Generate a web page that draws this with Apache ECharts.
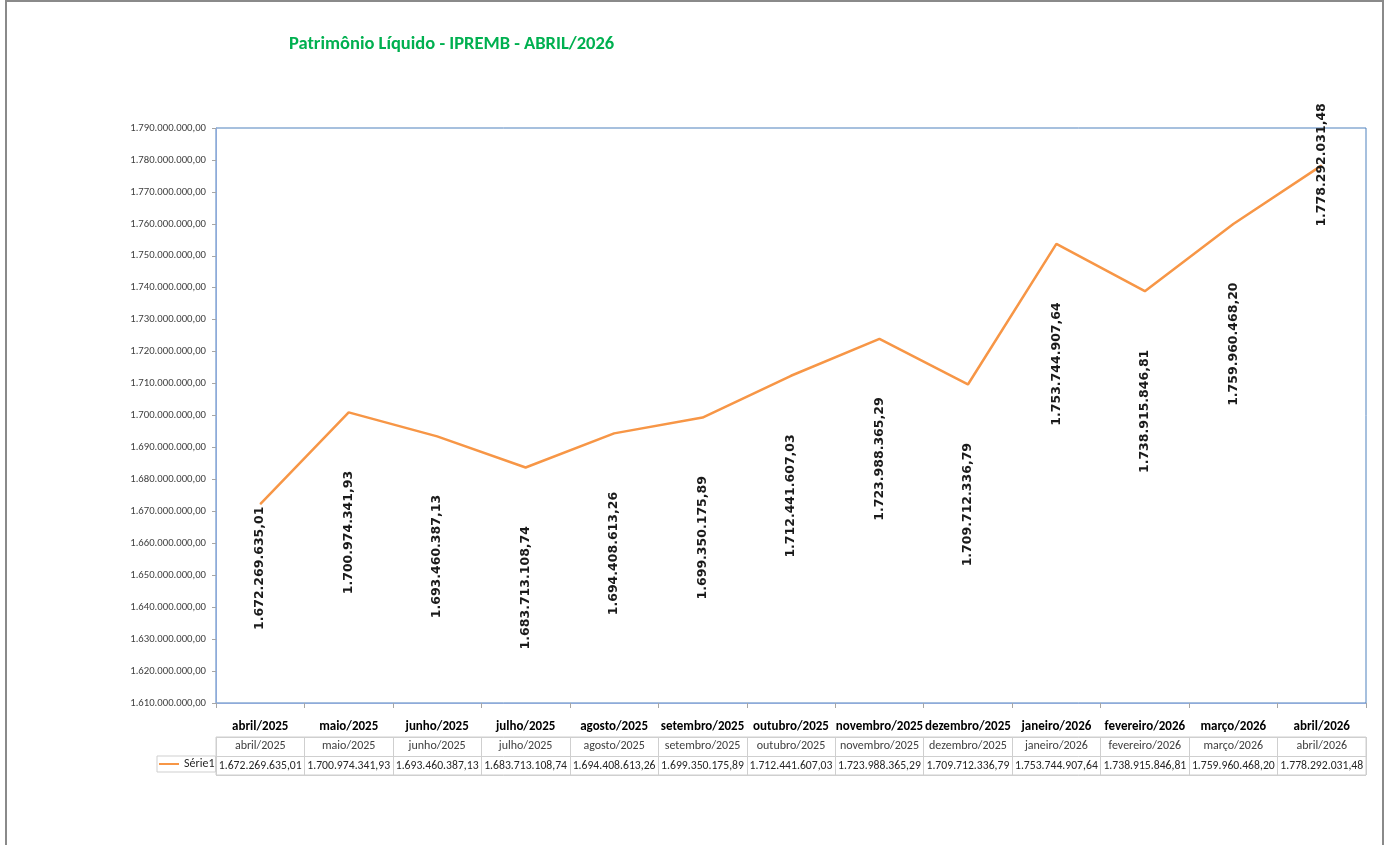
<!DOCTYPE html>
<html>
<head>
<meta charset="utf-8">
<script src="https://cdn.jsdelivr.net/npm/echarts@6/dist/echarts.min.js"></script>
<style>
  html, body { margin: 0; padding: 0; background: #fff; }
  #chart { width: 1389px; height: 845px; }
  #frame { position: absolute; left: 5px; top: 0; width: 1379px; height: 870px; box-sizing: border-box;
           border: 2px solid #8a8a8a; pointer-events: none; }
</style>
</head>
<body>
<div id="chart"></div>
<div id="frame"></div>
<script>
// meses do relatório
var meses = ['abril/2025', 'maio/2025', 'junho/2025', 'julho/2025', 'agosto/2025', 'setembro/2025',
  'outubro/2025', 'novembro/2025', 'dezembro/2025', 'janeiro/2026', 'fevereiro/2026', 'março/2026', 'abril/2026'];

// patrimônio líquido (R$)
var serie1 = [1672269635.01, 1700974341.93, 1693460387.13, 1683713108.74, 1694408613.26, 1699350175.89,
  1712441607.03, 1723988365.29, 1709712336.79, 1753744907.64, 1738915846.81, 1759960468.20, 1778292031.48];

var eixoY = { min: 1610000000, max: 1790000000, intervalo: 10000000 };

var fonteNarrow = 'Carlito, Calibri, Lato, sans-serif';

// formato pt-BR: 1.234.567,89
function fmt(v) {
  var p = Number(v).toFixed(2).split('.');
  return p[0].replace(/\B(?=(\d{3})+(?!\d))/g, '.') + ',' + p[1];
}

var chart = echarts.init(document.getElementById('chart'), null, { renderer: 'canvas' });

var ultimo = serie1.length - 1;
var dados = serie1.map(function (v, i) {
  if (i === 0) return { value: v, label: { distance: 2 } };
  if (i === ultimo) return { value: v, label: { position: 'top', align: 'center', distance: 0 } };
  return v;
});

var corTabela = '#cfcfcf';

var option = {
  backgroundColor: '#fff',
  animation: false,
  title: {
    text: 'Patrimônio Líquido - IPREMB - ABRIL/2026',
    left: 284,
    top: 30,
    textStyle: { color: '#00b050', fontSize: 18.5, fontWeight: 'bold', fontFamily: fonteNarrow }
  },
  legend: {
    data: [{ name: 'Série1', icon: 'rect' }],
    left: 157,
    top: 756,
    padding: [2, 1, 2, 2],
    itemWidth: 20,
    itemHeight: 2,
    borderColor: corTabela,
    borderWidth: 1,
    textStyle: { fontSize: 12, color: '#262626', fontFamily: fonteNarrow }
  },
  grid: [
    { left: 216, right: 23, top: 128, bottom: 142, show: true, borderColor: '#4f81bd', borderWidth: 1 },
    { left: 216, right: 23, top: 737, bottom: 70, show: true, borderColor: corTabela, borderWidth: 1 }
  ],
  xAxis: [
    {
      type: 'category',
      gridIndex: 0,
      data: meses,
      axisLine: { lineStyle: { color: '#8eaadb', width: 1 } },
      axisTick: { show: true, length: 5, lineStyle: { color: '#a6a6a6' } },
      axisLabel: { interval: 0, margin: 17, fontSize: 13, fontWeight: 'bold', color: '#000', fontFamily: fonteNarrow },
      splitLine: { show: false }
    },
    {
      type: 'category',
      gridIndex: 1,
      position: 'top',
      data: meses,
      axisLine: { show: false },
      axisTick: { show: false },
      axisLabel: { interval: 0, inside: true, margin: 3, fontSize: 12, color: '#404040', fontFamily: fonteNarrow },
      splitLine: { show: true, interval: 0, lineStyle: { color: corTabela, width: 1 } }
    },
    {
      type: 'category',
      gridIndex: 1,
      position: 'bottom',
      data: serie1.map(fmt),
      axisLine: { show: false },
      axisTick: { show: false },
      axisLabel: { interval: 0, inside: true, margin: 3, fontSize: 11.7, color: '#262626', fontFamily: fonteNarrow },
      splitLine: { show: false }
    }
  ],
  yAxis: [
    {
      type: 'value',
      gridIndex: 0,
      min: eixoY.min,
      max: eixoY.max,
      interval: eixoY.intervalo,
      axisLine: { show: true, lineStyle: { color: '#8eaadb' } },
      axisTick: { show: true, length: 4, lineStyle: { color: '#a6a6a6' } },
      axisLabel: { formatter: fmt, fontSize: 10.7, color: '#404040', margin: 10, fontFamily: fonteNarrow },
      splitLine: { show: false }
    },
    {
      type: 'value',
      gridIndex: 1,
      min: 0,
      max: 2,
      interval: 1,
      axisLine: { show: false },
      axisTick: { show: false },
      axisLabel: { show: false },
      splitLine: { show: true, lineStyle: { color: corTabela, width: 1 } }
    }
  ],
  series: [
    {
      name: 'Série1',
      type: 'line',
      xAxisIndex: 0,
      yAxisIndex: 0,
      data: dados,
      symbol: 'circle',
      symbolSize: 1,
      showSymbol: true,
      color: '#f79646',
      itemStyle: { color: '#f79646' },
      lineStyle: { color: '#f79646', width: 2.5 },
      label: {
        show: true,
        position: 'bottom',
        distance: 58,
        rotate: 90,
        align: 'right',
        verticalAlign: 'middle',
        formatter: function (p) { return fmt(p.value); },
        fontFamily: 'DejaVu Sans',
        fontSize: 12.5,
        fontWeight: 'bold',
        color: '#1a1a1a'
      }
    }
  ]
};

chart.setOption(option);
</script>
</body>
</html>
